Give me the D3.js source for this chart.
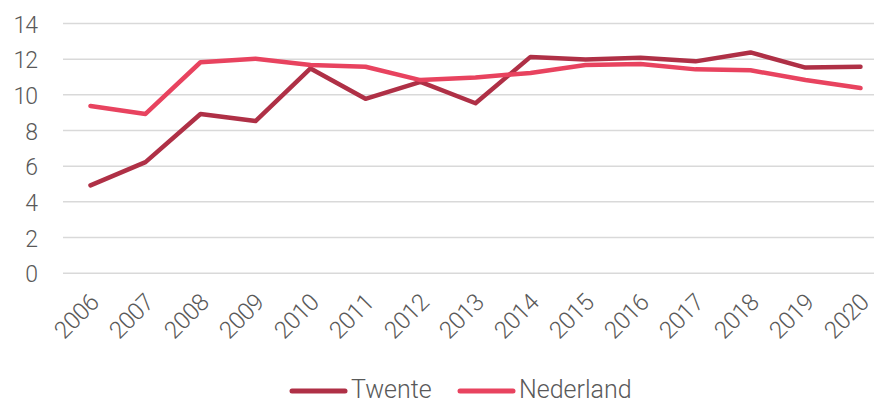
<!DOCTYPE html>
<html>
<head>
<meta charset="utf-8">
<script src="https://cdn.jsdelivr.net/npm/d3@7"></script>
<style>
  body { margin: 0; background: #fff; }
  svg { display: block; }
  text { font-family: Roboto, sans-serif; font-weight: 300; fill: #595959; }
</style>
</head>
<body>
<script>
var years = ['2006','2007','2008','2009','2010','2011','2012','2013','2014','2015','2016','2017','2018','2019','2020'];
var twente = [4.9, 6.2, 8.9, 8.5, 11.45, 9.75, 10.7, 9.5, 12.1, 11.95, 12.05, 11.85, 12.35, 11.5, 11.55];
var nederland = [9.35, 8.9, 11.8, 12.0, 11.65, 11.55, 10.8, 10.95, 11.2, 11.65, 11.7, 11.4, 11.35, 10.8, 10.35];
var yTicks = [0, 2, 4, 6, 8, 10, 12, 14];
var seriesNames = ['Twente', 'Nederland'];
var colors = ['#af3046', '#e8435f'];

var width = 874, height = 404;

var svg = d3.select("body").append("svg")
  .attr("width", width)
  .attr("height", height);

var x = d3.scaleBand().domain(years).range([63, 888]).padding(0);
var y = d3.scaleLinear().domain([0, 14]).range([272.7, 23]);

// gridlines + y labels
var yAxis = svg.append('g')
  .attr('transform', 'translate(63,0)')
  .call(d3.axisLeft(y).tickValues(yTicks).tickSize(-(888 - 63)).tickPadding(26))
yAxis.attr('font-family', null);
yAxis.select('.domain').remove();
yAxis.selectAll('.tick line').attr('stroke', '#d9d9d9').attr('stroke-width', 1.5);
yAxis.selectAll('.tick text')
  .attr('font-size', 23)
  .attr('letter-spacing', -1)
  .attr('dy', '0.4em');

// x labels, rotated
var xAxis = svg.append('g')
  .attr('transform', 'translate(0,292)')
  .call(d3.axisBottom(x).tickSize(0).tickPadding(0));
xAxis.select('.domain').remove();
xAxis.attr('font-family', null);
xAxis.selectAll('.tick text')
  .attr('font-size', 24)
  .attr('letter-spacing', -0.5)
  .attr('text-anchor', 'end')
  .attr('dy', '0.7em')
  .attr('y', 0)
  .attr('transform', 'translate(-2,0) rotate(-45)');

var line = d3.line()
  .x((d, i) => x(years[i]) + x.bandwidth() / 2)
  .y(d => y(d));

[twente, nederland].forEach(function(s, k) {
  svg.append('path')
    .datum(s)
    .attr('d', line)
    .attr('fill', 'none')
    .attr('stroke', colors[k])
    .attr('stroke-width', 4.5)
    .attr('stroke-linecap', 'round')
    .attr('stroke-linejoin', 'round');
});

// legend
var legend = svg.append('g').attr('class', 'legend');
var legendX = [292, 460];
seriesNames.forEach(function(name, k) {
  legend.append('line')
    .attr('x1', legendX[k]).attr('x2', legendX[k] + 53)
    .attr('y1', 391).attr('y2', 391)
    .attr('stroke', colors[k])
    .attr('stroke-width', 5)
    .attr('stroke-linecap', 'round');
  legend.append('text')
    .attr('x', legendX[k] + 59)
    .attr('y', 398)
    .attr('font-size', 25)
    .text(name);
});
</script>
</body>
</html>
